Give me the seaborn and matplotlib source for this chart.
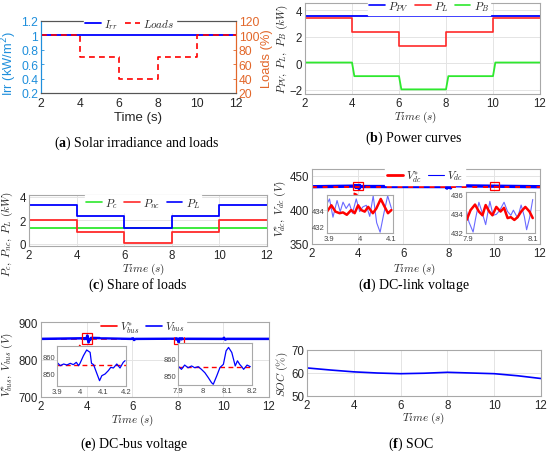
import matplotlib
matplotlib.use("Agg")
import matplotlib.pyplot as plt
import seaborn as sns
import numpy as np
import pandas as pd
from matplotlib.lines import Line2D
from matplotlib.patches import Rectangle
from matplotlib.ticker import FuncFormatter

# ------------------------------------------------------------------ data
switch_t = [2, 4, 6, 8, 10, 12]
irradiance = [1, 1, 1, 1, 1, 1]
loads_pct = [100, 70, 40, 70, 100, 100]

p_pv = [3.6, 3.6, 3.6, 3.6, 3.6, 3.6]
p_load = [3.38, 2.34, 1.32, 2.34, 3.38, 3.38]
t_batt = [2, 4.0, 4.1, 6.0, 6.1, 8.0, 8.1, 10.0, 10.1, 12]
p_batt = [0.05, 0.05, -0.98, -0.98, -1.98, -1.98, -0.98, -0.98, 0.05, 0.05]

p_crit = [1.35, 1.35, 1.35, 1.35, 1.35, 1.35]
p_noncrit = [2.0, 1.02, 0.03, 1.02, 2.0, 2.0]
p_load_c = [3.33, 2.35, 1.36, 2.35, 3.33, 3.33]

vdc_ref_level = 434
dc_l_t_ref = [3.895, 3.909, 3.922, 3.935, 3.946, 3.958, 3.972, 3.983, 3.994, 4.004,
              4.015, 4.026, 4.041, 4.052, 4.066, 4.076, 4.089, 4.1]
dc_l_ref = [433.9, 434.7, 433.9, 433.7, 433.8, 433.5, 434.1, 433.7, 434.7, 434.1,
            433.9, 434.5, 433.7, 434.3, 435.5, 434.7, 433.7, 434.1]
dc_l_t = [3.895, 3.903, 3.914, 3.927, 3.937, 3.946, 3.956, 3.966, 3.976, 3.988,
          3.999, 4.009, 4.02, 4.031, 4.042, 4.053, 4.064, 4.075, 4.088, 4.1]
dc_l_v = [434.9, 435.5, 433.2, 435.3, 433.9, 435.1, 434.3, 434.9, 433.7, 435.5,
          433.9, 434.5, 434.7, 433.3, 435.9, 432.5, 431.3, 433.5, 435.9, 434.3]
dc_r_t_ref = [7.895, 7.907, 7.921, 7.933, 7.944, 7.954, 7.965, 7.975, 7.987, 8.0,
              8.011, 8.022, 8.032, 8.043, 8.053, 8.064, 8.077, 8.09, 8.1]
dc_r_ref = [433.3, 434.35, 434.95, 434.2, 433.8, 434.9, 434.2, 433.8, 434.7, 434.2,
            434.6, 433.5, 433.6, 433.3, 433.6, 434.2, 434.7, 434.2, 433.5]
dc_r_t = [7.895, 7.902, 7.915, 7.923, 7.933, 7.944, 7.954, 7.967, 7.977, 7.987,
          7.998, 8.011, 8.022, 8.032, 8.04, 8.053, 8.064, 8.074, 8.081, 8.09, 8.1]
dc_r_v = [434.2, 433.1, 432.0, 433.5, 435.2, 434.0, 432.8, 435.3, 433.8, 433.9,
          434.35, 435.2, 434.2, 433.8, 434.35, 433.5, 434.9, 433.65, 432.25, 433.5, 435.5]

vbus_ref_level = 855
bus_l_t = [3.9, 3.914, 3.929, 3.943, 3.958, 3.971, 3.984, 3.994, 4.0, 4.015, 4.029,
           4.044, 4.05, 4.059, 4.073, 4.085, 4.095, 4.109, 4.123, 4.134, 4.145,
           4.16, 4.174, 4.188, 4.196]
bus_l_v = [856.6, 854.6, 855.6, 855.0, 856.0, 855.2, 856.6, 854.6, 856.0, 860.6, 864.0,
           862.6, 856.0, 855.2, 850.0, 845.6, 848.6, 849.6, 851.6, 853.6, 853.2,
           855.6, 853.2, 856.6, 857.6]
bus_r_t = [7.9, 7.914, 7.927, 7.941, 7.955, 7.968, 7.982, 7.995, 8.009, 8.023, 8.036,
           8.043, 8.057, 8.07, 8.084, 8.095, 8.105, 8.118, 8.132, 8.141, 8.15, 8.159,
           8.166, 8.18, 8.193]
bus_r_v = [855.6, 853.7, 856.1, 854.6, 855.6, 854.6, 855.2, 853.7, 851.8, 849.0, 846.2,
           845.3, 850.0, 854.7, 856.5, 864.1, 866.0, 863.2, 855.6, 858.5, 856.5, 855.1,
           853.7, 856.1, 855.2]
bus_6_t = [5.95, 6.0, 6.03, 6.08, 6.15]
bus_6_v = [855.0, 856.0, 858.5, 852.0, 855.0]
bus_10_t = [9.95, 10.0, 10.03, 10.08, 10.15]
bus_10_v = [855.0, 855.5, 858.0, 853.0, 855.0]

soc_t = [2, 3, 4, 5, 6, 7, 8, 9, 10, 11, 12]
soc = [62.2, 61.3, 60.5, 60.0, 59.7, 59.9, 60.3, 60.0, 59.7, 58.8, 57.6]

# ------------------------------------------------------------------ style
sns.set_theme(style="whitegrid")
plt.rcParams["font.family"] = ["Liberation Sans", "DejaVu Sans"]
plt.rcParams["mathtext.fontset"] = "cm"
plt.rcParams["mathtext.rm"] = "Liberation Serif"
plt.rcParams["mathtext.it"] = "Liberation Serif:italic"
plt.rcParams["mathtext.bf"] = "Liberation Serif:bold"

W, H = 550, 452
fig = plt.figure(figsize=(5.5, 4.52), dpi=100)
fig.patch.set_facecolor("white")

TICK_FS = 8.3
LAB_FS = 8.0
LEG_FS = 8.0
SPINE = "#a8a8a8"
GRID = "#e4e4e4"
TXT = "#262626"
GREEN = "#2ee82e"


def add_ax(l, t, r, b):
    return fig.add_axes([l / W, 1 - b / H, (r - l) / W, (b - t) / H])


def line(ax, x, y, **kw):
    sns.lineplot(x=x, y=y, ax=ax, estimator=None, sort=False, legend=False, **kw)


def style_ax(ax, grid=True, fs=TICK_FS):
    ax.set_facecolor("white")
    for s in ax.spines.values():
        s.set_color(SPINE)
        s.set_linewidth(0.8)
    ax.tick_params(direction="in", length=2, width=0.6, colors=SPINE,
                   labelsize=fs, labelcolor=TXT, pad=2)
    if grid:
        ax.grid(True, color=GRID, linewidth=0.7)
    else:
        ax.grid(False)
    ax.set_axisbelow(True)


def labels(ax, xl, yl, xpos, ypos, fs=LAB_FS):
    ax.set_xlabel(xl, fontsize=fs, color=TXT)
    ax.set_ylabel(yl, fontsize=fs, color=TXT)
    ax.xaxis.set_label_coords(*xpos)
    ax.yaxis.set_label_coords(*ypos)
    for lab in (ax.xaxis.label, ax.yaxis.label):
        lab.set_va("center")
        lab.set_ha("center")
    ax.yaxis.label.set_rotation_mode("anchor")


def legend(ax, handles, names, cx, cy):
    leg = ax.legend(handles, names, loc="center", bbox_to_anchor=(cx, cy), ncol=len(names),
                    fontsize=LEG_FS, frameon=True, handlelength=1.4, handletextpad=0.3,
                    columnspacing=0.6, borderpad=0.15, borderaxespad=0, fancybox=False)
    leg.get_frame().set_facecolor("white")
    leg.get_frame().set_edgecolor("white")
    leg.get_frame().set_alpha(1)
    leg.set_zorder(10)
    return leg


def h(color, lw=1.2, ls="-"):
    return Line2D([], [], color=color, lw=lw, ls=ls)


def caption(x, y, letter, text):
    fig.text(x / W, 1 - y / H, r"($\mathbf{" + letter + r"}$) " + text, ha="center",
             va="center", fontsize=10, family="Liberation Serif",
             math_fontfamily="custom", color="black")


TIME_LAB = r"$Time\ (s)$"
xt = [2, 4, 6, 8, 10, 12]
fmt_g = FuncFormatter(lambda v, p: f"{v:g}")

# ------------------------------------------------------------------ (a)
BLUE_AX = "#1f8fdc"
ORANGE_AX = "#e2672a"
axa = add_ax(41, 22, 236, 94)
style_ax(axa, grid=False)
axa2 = axa.twinx()
style_ax(axa2, grid=False)
line(axa, switch_t, irradiance, color="blue", lw=1.3, drawstyle="steps-post")
line(axa2, switch_t, loads_pct, color="red", lw=1.2, linestyle=(0, (3.5, 2.5)),
     drawstyle="steps-post")
axa.set_xlim(2, 12)
axa.set_ylim(0.2, 1.2)
axa2.set_ylim(20, 120)
axa.set_xticks(xt)
axa.set_yticks([0.2, 0.4, 0.6, 0.8, 1.0, 1.2])
axa.yaxis.set_major_formatter(fmt_g)
axa2.set_yticks([20, 40, 60, 80, 100, 120])
axa.tick_params(axis="y", labelcolor=BLUE_AX, colors=BLUE_AX, labelsize=8.7)
axa.tick_params(axis="x", labelsize=8.7, pad=3)
axa2.tick_params(axis="y", labelcolor=ORANGE_AX, colors=ORANGE_AX, labelsize=8.7)
axa2.spines["right"].set_color(ORANGE_AX)
axa2.spines["left"].set_color(BLUE_AX)
axa.spines["left"].set_color(BLUE_AX)
axa.spines["right"].set_color(ORANGE_AX)
for a in (axa, axa2):
    a.spines["top"].set_color("#555555")
    a.spines["bottom"].set_color("#555555")
axa.set_xlabel("Time (s)", fontsize=9.5, color=TXT)
axa.xaxis.set_label_coords(0.5, -0.33)
axa.xaxis.label.set_va("center")
axa.set_ylabel("Irr (kW/m$^2$)", fontsize=9.3, color=BLUE_AX, math_fontfamily="dejavusans")
axa.yaxis.set_label_coords(-0.165, 0.42)
axa.yaxis.label.set_va("center")
axa2.set_ylabel("Loads (%)", fontsize=9.3, color=ORANGE_AX)
axa2.yaxis.set_label_coords(1.16, 0.49)
axa2.yaxis.label.set_va("center")
legend(axa2, [h("blue", 1.3), h("red", 1.2, (0, (3.5, 2.5)))], [r"$I_{rr}$", r"$Loads$"],
       0.456, 0.96)
caption(137, 143, "a", "Solar irradiance and loads")

# ------------------------------------------------------------------ (b)
axb = add_ax(305, 4, 540, 95)
style_ax(axb)
line(axb, switch_t, p_pv, color="blue", lw=1.3, drawstyle="steps-post")
line(axb, switch_t, p_load, color="#ff2a2a", lw=1.2, drawstyle="steps-post")
line(axb, t_batt, p_batt, color=GREEN, lw=1.3)
axb.set_xlim(2, 12)
axb.set_ylim(-2.33, 4.55)
axb.set_xticks(xt)
axb.set_yticks([-2, 0, 2, 4])
labels(axb, TIME_LAB, r"$P_{PV},\ P_L,\ P_B\ (kW)$", (0.47, -0.25), (-0.098, 0.5))
legend(axb, [h("blue"), h("#ff2a2a"), h(GREEN)], [r"$P_{PV}$", r"$P_L$", r"$P_B$"],
       0.528, 0.967)
caption(414, 138, "b", "Power curves")

# ------------------------------------------------------------------ (c)
axc = add_ax(29, 196, 267, 247)
style_ax(axc)
line(axc, switch_t, p_crit, color=GREEN, lw=1.3, drawstyle="steps-post")
line(axc, switch_t, p_noncrit, color="#ff2a2a", lw=1.3, drawstyle="steps-post")
line(axc, switch_t, p_load_c, color="blue", lw=1.3, drawstyle="steps-post")
axc.set_xlim(2, 12)
axc.set_ylim(-0.2, 4.17)
axc.set_xticks(xt)
axc.set_yticks([0, 2, 4])
labels(axc, TIME_LAB, r"$P_c,\ P_{nc},\ P_L\ (kW)$", (0.48, -0.43), (-0.092, 0.25))
legend(axc, [h(GREEN), h("#ff2a2a"), h("blue")], [r"$P_c$", r"$P_{nc}$", r"$P_L$"],
       0.479, 0.84)
caption(138, 285, "c", "Share of loads")

# ------------------------------------------------------------------ (d)
axd = add_ax(312, 170, 540, 245)
style_ax(axd)
vdc_t = [2] + dc_l_t + dc_r_t + [12]
vdc_v = [vdc_ref_level] + dc_l_v + dc_r_v + [vdc_ref_level]
line(axd, vdc_t, vdc_v, color="blue", lw=2.4)
line(axd, [2, 12], [vdc_ref_level, vdc_ref_level], color="red", lw=1.4,
     linestyle=(0, (2.5, 3)))
axd.set_xlim(2, 12)
axd.set_ylim(350, 460)
axd.set_xticks(xt)
axd.set_yticks([350, 400, 450])
labels(axd, TIME_LAB, r"$V_{dc}^{*},\ V_{dc}\ (V)$", (0.45, -0.32), (-0.14, 0.48))
legend(axd, [h("red", 2.0), h("blue", 0.8)], [r"$V_{dc}^{*}$", r"$V_{dc}$"], 0.496, 0.907)
caption(414, 285, "d", "DC-link voltage")
for x0, w in ((3.81, 0.41), (9.81, 0.37)):
    axd.add_patch(Rectangle((x0, 428.9), w, 12.4, fill=False, ec="red", lw=0.9, zorder=6))
axd.annotate("", xy=(3.785, 413.5), xytext=(3.96, 427.3),
             arrowprops=dict(arrowstyle="-|>", color="red", lw=0.9, mutation_scale=6))
axd.annotate("", xy=(10.46, 413.5), xytext=(10.14, 426.7),
             arrowprops=dict(arrowstyle="-|>", color="red", lw=0.9, mutation_scale=6))


def inset(box, xlim, ylim, xticks, yticks):
    ax = add_ax(*box)
    style_ax(ax, grid=False, fs=5.5)
    ax.tick_params(labelcolor="#444444", pad=1.5, length=1.5)
    ax.set_xlim(*xlim)
    ax.set_ylim(*ylim)
    ax.set_xticks(xticks)
    ax.set_yticks(yticks)
    ax.xaxis.set_major_formatter(fmt_g)
    ax.yaxis.set_major_formatter(fmt_g)
    return ax


ind1 = inset((327, 196, 393, 234), (3.895, 4.105), (431.2, 436.0), [3.9, 4.0, 4.1], [432, 434])
line(ind1, dc_l_t, dc_l_v, color="#6a6aff", lw=0.8)
line(ind1, dc_l_t_ref, dc_l_ref, color="red", lw=1.8)
ind1.set_xlabel("")
ind1.set_ylabel("")
ind2 = inset((466, 193, 535, 234), (7.893, 8.107), (431.9, 436.3), [7.9, 8.0, 8.1],
             [432, 434, 436])
line(ind2, dc_r_t, dc_r_v, color="#6a6aff", lw=0.8)
line(ind2, dc_r_t_ref, dc_r_ref, color="red", lw=1.8)
ind2.set_xlabel("")
ind2.set_ylabel("")

# ------------------------------------------------------------------ (e)
axe = add_ax(41, 323, 269, 398)
style_ax(axe)
vb_t = [2] + bus_l_t + bus_6_t + bus_r_t + bus_10_t + [12]
vb_v = [vbus_ref_level] + bus_l_v + bus_6_v + bus_r_v + bus_10_v + [vbus_ref_level]
line(axe, [2, 12], [vbus_ref_level, vbus_ref_level], color="red", lw=1.2,
     linestyle=(0, (3.5, 2.5)))
line(axe, vb_t, vb_v, color="blue", lw=1.8)
axe.set_xlim(2, 12)
axe.set_ylim(700, 900)
axe.set_xticks(xt)
axe.set_yticks([700, 800, 900])
labels(axe, TIME_LAB, r"$V_{bus}^{*},\ V_{bus}\ (V)$", (0.40, -0.295), (-0.149, 0.45))
legend(axe, [h("red"), h("blue")], [r"$V_{bus}^{*}$", r"$V_{bus}$"], 0.447, 0.933)
caption(134, 444, "e", "DC-bus voltage")
axe.add_patch(Rectangle((3.80, 841.3), 0.44, 29.4, fill=False, ec="red", lw=0.9, zorder=6))
axe.add_patch(Rectangle((7.83, 841.3), 0.44, 29.4, fill=False, ec="red", lw=0.9, zorder=6))
axe.annotate("", xy=(3.49, 821.9), xytext=(3.785, 836.8),
             arrowprops=dict(arrowstyle="-|>", color="red", lw=0.9, mutation_scale=6))
axe.annotate("", xy=(8.68, 823.5), xytext=(8.24, 843.2),
             arrowprops=dict(arrowstyle="-|>", color="red", lw=0.9, mutation_scale=6))

ine1 = inset((57, 347, 126, 387), (3.9, 4.2), (842.4, 866.4), [3.9, 4.0, 4.1, 4.2], [850, 860])
line(ine1, [3.9, 4.2], [vbus_ref_level, vbus_ref_level], color="red", lw=1.0,
     linestyle=(0, (3.5, 2.5)))
line(ine1, bus_l_t, bus_l_v, color="blue", lw=0.9)
ine1.set_xlabel("")
ine1.set_ylabel("")
ine2 = inset((178, 344, 252, 386), (7.9, 8.2), (844.9, 868.5), [7.9, 8.0, 8.1, 8.2], [850, 860])
line(ine2, [7.9, 8.2], [vbus_ref_level, vbus_ref_level], color="red", lw=1.0,
     linestyle=(0, (3.5, 2.5)))
line(ine2, bus_r_t, bus_r_v, color="blue", lw=0.9)
ine2.set_xlabel("")
ine2.set_ylabel("")

# ------------------------------------------------------------------ (f)
axf = add_ax(307, 351, 541, 397)
style_ax(axf)
line(axf, soc_t, soc, color="blue", lw=1.2)
axf.set_xlim(2, 12)
axf.set_ylim(50, 70)
axf.set_xticks(xt)
axf.set_yticks([50, 60, 70])
labels(axf, TIME_LAB, r"$SOC\ (\%)$", (0.50, -0.46), (-0.107, 0.5))
caption(411, 444, "f", "SOC")

fig.savefig("out.png", dpi=100, facecolor="white")
